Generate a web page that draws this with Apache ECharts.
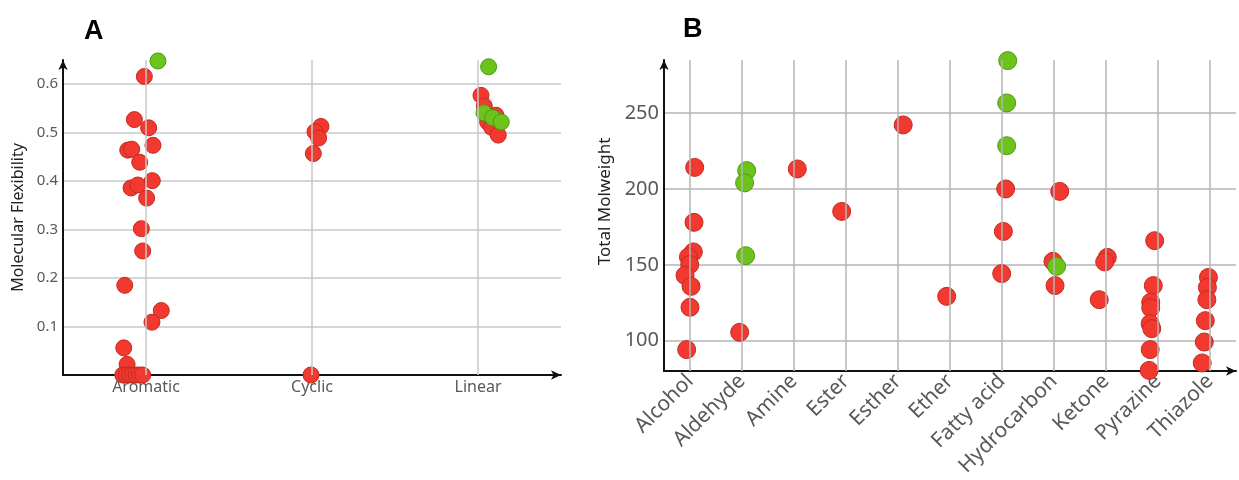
<!DOCTYPE html>
<html>
<head>
<meta charset="utf-8">
<script src="https://cdn.jsdelivr.net/npm/echarts@6/dist/echarts.min.js"></script>
<style>
  html, body { margin: 0; padding: 0; background: #fff; }
  #chart { width: 1239px; height: 480px; }
</style>
</head>
<body>
<div id="chart"></div>
<script>
// Panel A: molecular flexibility by structure class
const flexCategories = ['Aromatic', 'Cyclic', 'Linear'];
// [category, horizontal jitter, value]
const flexRed = [
  ['Aromatic', -0.01, 0.616], ['Aromatic', -0.07, 0.527], ['Aromatic', 0.016, 0.510],
  ['Aromatic', 0.042, 0.474], ['Aromatic', -0.11, 0.464], ['Aromatic', -0.086, 0.466],
  ['Aromatic', -0.038, 0.439], ['Aromatic', -0.09, 0.386], ['Aromatic', -0.05, 0.392],
  ['Aromatic', 0.038, 0.401], ['Aromatic', 0.004, 0.365], ['Aromatic', -0.028, 0.302],
  ['Aromatic', -0.02, 0.256], ['Aromatic', -0.128, 0.185], ['Aromatic', 0.092, 0.133],
  ['Aromatic', 0.036, 0.109], ['Aromatic', -0.134, 0.056], ['Aromatic', -0.114, 0.022],
  ['Aromatic', -0.14, 0], ['Aromatic', -0.12, 0], ['Aromatic', -0.10, 0],
  ['Aromatic', -0.08, 0], ['Aromatic', -0.06, 0], ['Aromatic', -0.04, 0],
  ['Aromatic', -0.02, 0],
  ['Cyclic', 0.054, 0.513], ['Cyclic', 0.018, 0.502], ['Cyclic', 0.04, 0.489],
  ['Cyclic', 0.008, 0.457], ['Cyclic', -0.006, 0],
  ['Linear', 0.018, 0.577], ['Linear', 0.038, 0.555], ['Linear', 0.108, 0.536],
  ['Linear', 0.058, 0.522], ['Linear', 0.082, 0.511], ['Linear', 0.122, 0.495]
];
const flexGreen = [
  ['Aromatic', 0.072, 0.648],
  ['Linear', 0.064, 0.636], ['Linear', 0.036, 0.541], ['Linear', 0.088, 0.531],
  ['Linear', 0.14, 0.522]
];

// Panel B: total molweight by compound class
const mwCategories = ['Alcohol', 'Aldehyde', 'Amine', 'Ester', 'Esther', 'Ether',
  'Fatty acid', 'Hydrocarbon', 'Ketone', 'Pyrazine', 'Thiazole'];
const mwRed = [
  ['Alcohol', 0.09, 214.2], ['Alcohol', 0.077, 178.0], ['Alcohol', 0.064, 158.5],
  ['Alcohol', -0.03, 155.2], ['Alcohol', -0.006, 150.1], ['Alcohol', -0.096, 143.0],
  ['Alcohol', 0.02, 135.8], ['Alcohol', 0, 122.0], ['Alcohol', -0.064, 94.1],
  ['Aldehyde', -0.045, 105.5],
  ['Amine', 0.064, 213.2],
  ['Ester', -0.083, 185.2],
  ['Esther', 0.1, 242.2],
  ['Ether', -0.064, 129.2],
  ['Fatty acid', 0.07, 200.0], ['Fatty acid', 0.026, 172.0], ['Fatty acid', -0.006, 144.2],
  ['Hydrocarbon', 0.11, 198.4], ['Hydrocarbon', -0.02, 152.3], ['Hydrocarbon', 0.02, 136.3],
  ['Ketone', 0.025, 154.9], ['Ketone', -0.025, 151.9], ['Ketone', -0.13, 127.0],
  ['Pyrazine', -0.064, 165.9], ['Pyrazine', -0.09, 136.3], ['Pyrazine', -0.14, 125.3],
  ['Pyrazine', -0.14, 121.6], ['Pyrazine', -0.15, 111.2], ['Pyrazine', -0.12, 107.9],
  ['Pyrazine', -0.15, 94.1], ['Pyrazine', -0.17, 80.4],
  ['Thiazole', -0.03, 141.7], ['Thiazole', -0.05, 135.1], ['Thiazole', -0.06, 127.0],
  ['Thiazole', -0.09, 113.2], ['Thiazole', -0.11, 99.1], ['Thiazole', -0.15, 85.3]
];
const mwGreen = [
  ['Aldehyde', 0.09, 212.1], ['Aldehyde', 0.05, 204.0], ['Aldehyde', 0.07, 156.0],
  ['Fatty acid', 0.11, 284.6], ['Fatty acid', 0.09, 256.7], ['Fatty acid', 0.09, 228.5],
  ['Hydrocarbon', 0.05, 149.0]
];

const RED = { color: '#f2392f', borderColor: '#c42a21', borderWidth: 1, opacity: 1 };
const GREEN = { color: '#6cc31b', borderColor: '#4f9a12', borderWidth: 1, opacity: 1 };
const FONT = 'Noto Sans';
const LABEL_GREY = '#595959';

function toPoints(rows, cats) {
  return rows.map(r => [cats.indexOf(r[0]) + r[1], r[2]]);
}

function categoryAxis(gridIndex, cats, labelOpts) {
  return {
    type: 'category', gridIndex, data: cats, boundaryGap: true,
    axisLine: { show: true, onZero: false, symbol: ['none', 'arrow'], symbolSize: [7, 10],
      lineStyle: { color: '#111', width: 2 } },
    axisTick: { show: false },
    splitLine: { show: false },
    axisLabel: Object.assign({ color: LABEL_GREY, fontFamily: FONT }, labelOpts)
  };
}

function jitterAxis(gridIndex, n) {
  return { type: 'value', gridIndex, min: -0.5, max: n - 0.5, show: false,
    splitLine: { show: false } };
}

function valueAxis(gridIndex, name, gridColor, opts) {
  return Object.assign({
    type: 'value', gridIndex, name, nameLocation: 'middle',
    axisLine: { show: true, onZero: false, symbol: ['none', 'arrow'], symbolSize: [7, 10],
      lineStyle: { color: '#111', width: 2 } },
    axisTick: { show: false },
    splitLine: { show: true, showMinLine: false, showMaxLine: false,
      lineStyle: { color: gridColor, width: 1.5 } }
  }, opts);
}

function categoryLines(xAxisIndex, yAxisIndex, n, color) {
  const lines = [];
  for (let i = 0; i < n; i++) lines.push({ xAxis: i });
  return {
    type: 'scatter', xAxisIndex, yAxisIndex, data: [], silent: true, z: 1,
    markLine: { silent: true, symbol: ['none', 'none'], label: { show: false },
      lineStyle: { color, width: 1.5, type: 'solid' },
      animation: false, data: lines }
  };
}

function dots(xAxisIndex, yAxisIndex, rows, cats, style, size) {
  return {
    type: 'scatter', xAxisIndex, yAxisIndex, z: 3, symbolSize: size,
    itemStyle: style, data: toPoints(rows, cats)
  };
}

const chart = echarts.init(document.getElementById('chart'), null, { renderer: 'canvas' });
chart.setOption({
  animation: false,
  backgroundColor: '#fff',
  title: [
    { text: 'A', left: 79, top: 13, textStyle: { fontFamily: 'Liberation Sans', fontWeight: 'bold', fontSize: 27, color: '#000' } },
    { text: 'B', left: 678, top: 11, textStyle: { fontFamily: 'Liberation Sans', fontWeight: 'bold', fontSize: 27, color: '#000' } }
  ],
  grid: [
    { left: 63, width: 498, top: 60, bottom: 105 },
    { left: 664, right: 3, top: 60, bottom: 109 }
  ],
  xAxis: [
    categoryAxis(0, flexCategories, { fontSize: 16, margin: 4 }),
    jitterAxis(0, flexCategories.length),
    categoryAxis(1, mwCategories, { fontSize: 21, rotate: 45, margin: 7 }),
    jitterAxis(1, mwCategories.length)
  ],
  yAxis: [
    valueAxis(0, 'Molecular Flexibility', '#c8c8c8', {
      min: 0, max: 0.65, splitNumber: 6, nameGap: 37,
      nameTextStyle: { color: '#222', fontFamily: FONT, fontSize: 16 },
      axisLabel: { color: LABEL_GREY, fontFamily: FONT, fontSize: 15, margin: 5,
        showMinLabel: false, showMaxLabel: false }
    }),
    valueAxis(1, 'Total Molweight', '#b4b4b4', {
      min: 80, max: 285, splitNumber: 4, nameGap: 50,
      nameTextStyle: { color: '#222', fontFamily: FONT, fontSize: 17, padding: [0, 0, 0, 28] },
      axisLabel: { color: LABEL_GREY, fontFamily: FONT, fontSize: 20, margin: 5,
        showMinLabel: false, showMaxLabel: false }
    })
  ],
  series: [
    categoryLines(1, 0, flexCategories.length, '#c8c8c8'),
    dots(1, 0, flexRed, flexCategories, RED, 16),
    dots(1, 0, flexGreen, flexCategories, GREEN, 16),
    categoryLines(3, 1, mwCategories.length, '#b4b4b4'),
    dots(3, 1, mwRed, mwCategories, RED, 18),
    dots(3, 1, mwGreen, mwCategories, GREEN, 18)
  ]
});
</script>
</body>
</html>
